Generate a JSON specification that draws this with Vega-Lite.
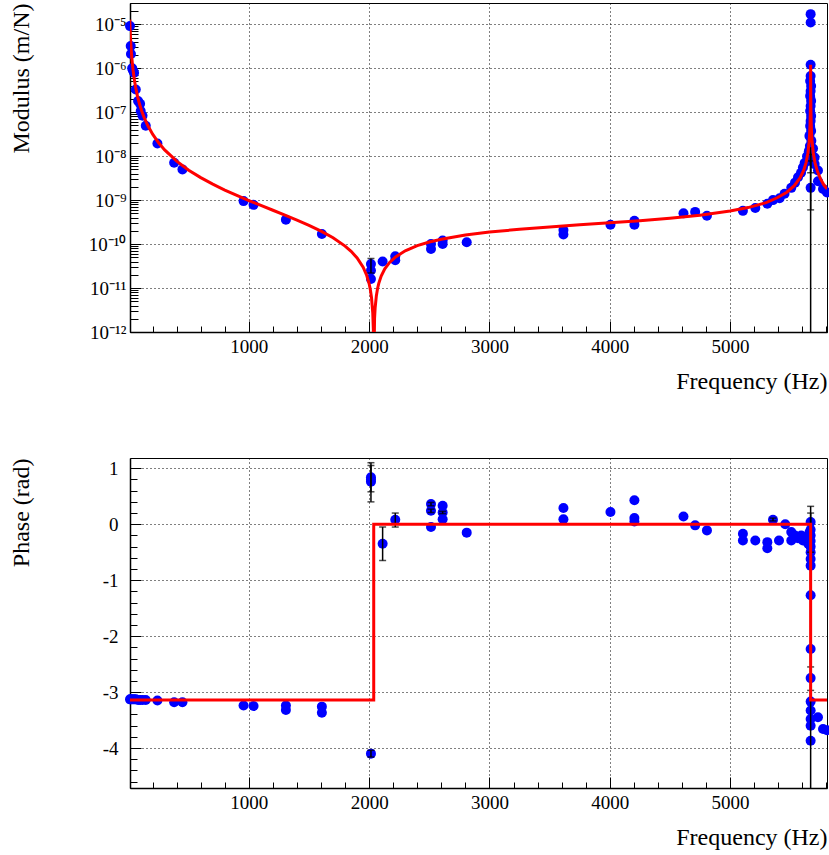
{
  "$schema": "https://vega.github.io/schema/vega-lite/v6.json",
  "padding": {"left": 8, "top": 2, "right": 0, "bottom": 0},
  "spacing": 63,
  "config": {
    "font": "Liberation Serif",
    "view": {"stroke": "#000", "strokeWidth": 1},
    "axis": {
      "labelFont": "Liberation Serif", "titleFont": "Liberation Serif",
      "labelFontSize": 19, "titleFontSize": 24, "titleFontWeight": "normal",
      "labelColor": "#000", "titleColor": "#000", "domainColor": "#000",
      "tickColor": "#000", "gridColor": "#000", "gridDash": [1, 3], "gridOpacity": 1, "gridWidth": 1,
      "domainWidth": 1.5, "tickWidth": 1
    }
  },
  "datasets": {
    "mod": [
      {"f": 12, "v": 9.1e-6}, {"f": 18, "v": 3.2e-6}, {"f": 20, "v": 2.1e-6}, {"f": 30, "v": 1.0e-6},
      {"f": 36, "v": 9.0e-7}, {"f": 46, "v": 7.9e-7}, {"f": 60, "v": 3.3e-7}, {"f": 79, "v": 1.8e-7},
      {"f": 96, "v": 1.55e-7}, {"f": 101, "v": 1.07e-7}, {"f": 116, "v": 8.3e-8}, {"f": 143, "v": 4.9e-8},
      {"f": 240, "v": 1.95e-8}, {"f": 379, "v": 7.1e-9}, {"f": 448, "v": 5.0e-9}, {"f": 956, "v": 9.5e-10},
      {"f": 1039, "v": 7.8e-10}, {"f": 1308, "v": 3.6e-10}, {"f": 1607, "v": 1.7e-10},
      {"f": 2015, "v": 3.5e-11}, {"f": 2015, "v": 2.5e-11}, {"f": 2015, "v": 1.6e-11},
      {"f": 2112, "v": 4.0e-11}, {"f": 2217, "v": 5.3e-11}, {"f": 2217, "v": 4.3e-11},
      {"f": 2514, "v": 1.0e-10}, {"f": 2514, "v": 7.7e-11}, {"f": 2611, "v": 1.2e-10}, {"f": 2611, "v": 1.0e-10},
      {"f": 2811, "v": 1.1e-10}, {"f": 3615, "v": 2.1e-10}, {"f": 3615, "v": 1.65e-10},
      {"f": 4006, "v": 2.75e-10}, {"f": 4205, "v": 3.4e-10}, {"f": 4205, "v": 2.75e-10},
      {"f": 4613, "v": 5.0e-10}, {"f": 4710, "v": 5.4e-10}, {"f": 4808, "v": 4.4e-10},
      {"f": 5107, "v": 5.7e-10}, {"f": 5210, "v": 6.6e-10}, {"f": 5310, "v": 8.3e-10}, {"f": 5357, "v": 1.0e-9},
      {"f": 5412, "v": 1.1e-9}, {"f": 5453, "v": 1.4e-9}, {"f": 5509, "v": 1.9e-9}, {"f": 5540, "v": 2.5e-9},
      {"f": 5565, "v": 3.3e-9}, {"f": 5590, "v": 4.2e-9}, {"f": 5606, "v": 5.5e-9}, {"f": 5620, "v": 7.0e-9},
      {"f": 5640, "v": 1.0e-8}, {"f": 5655, "v": 1.3e-8},
      {"f": 5670, "v": 6.68e-7}, {"f": 5666, "v": 5.14e-7}, {"f": 5674, "v": 3.96e-7}, {"f": 5670, "v": 3.05e-7},
      {"f": 5666, "v": 2.35e-7}, {"f": 5674, "v": 1.81e-7}, {"f": 5670, "v": 1.39e-7}, {"f": 5666, "v": 1.07e-7},
      {"f": 5674, "v": 8.24e-8}, {"f": 5670, "v": 6.34e-8}, {"f": 5666, "v": 4.88e-8}, {"f": 5674, "v": 3.76e-8},
      {"f": 5660, "v": 2.89e-8}, {"f": 5676, "v": 2.23e-8}, {"f": 5664, "v": 1.71e-8}, {"f": 5676, "v": 1.32e-8},
      {"f": 5670, "v": 1.02e-8}, {"f": 5670, "v": 7.82e-9},
      {"f": 5670, "v": 1.2e-6}, {"f": 5670, "v": 1.7e-5}, {"f": 5670, "v": 1.1e-5}, {"f": 5670, "v": 1.9e-9},
      {"f": 5690, "v": 1.5e-8}, {"f": 5703, "v": 9.3e-9}, {"f": 5703, "v": 6.6e-9}, {"f": 5731, "v": 4.7e-9},
      {"f": 5731, "v": 2.7e-9}, {"f": 5773, "v": 1.8e-9}, {"f": 5806, "v": 1.5e-9}
    ],
    "moderr": [
      {"f": 5670, "lo": 1e-14, "hi": 1.55e-8},
      {"f": 5670, "lo": 6.0e-10, "hi": 7.8e-9},
      {"f": 5670, "lo": 4.2e-9, "hi": 1.1e-8},
      {"f": 2015, "lo": 2.2e-11, "hi": 4.7e-11}
    ],
    "modfit": [
      {"f": 10, "v": 1.275e-5}, {"f": 11, "v": 1.054e-5}, {"f": 13, "v": 7.544e-6}, {"f": 15, "v": 5.667e-6},
      {"f": 18, "v": 3.935e-6}, {"f": 22, "v": 2.634e-6}, {"f": 27, "v": 1.749e-6}, {"f": 33, "v": 1.171e-6},
      {"f": 40, "v": 7.969e-7}, {"f": 50, "v": 5.1e-7}, {"f": 60, "v": 3.542e-7}, {"f": 75, "v": 2.267e-7},
      {"f": 90, "v": 1.574e-7}, {"f": 110, "v": 1.054e-7}, {"f": 130, "v": 7.544e-8}, {"f": 160, "v": 4.98e-8},
      {"f": 200, "v": 3.158e-8}, {"f": 250, "v": 2.011e-8}, {"f": 300, "v": 1.388e-8}, {"f": 400, "v": 7.675e-9},
      {"f": 500, "v": 4.806e-9}, {"f": 600, "v": 3.248e-9}, {"f": 700, "v": 2.308e-9}, {"f": 800, "v": 1.697e-9},
      {"f": 900, "v": 1.279e-9}, {"f": 1000, "v": 9.79e-10}, {"f": 1100, "v": 7.57e-10}, {"f": 1200, "v": 5.88e-10},
      {"f": 1300, "v": 4.562e-10}, {"f": 1400, "v": 3.514e-10}, {"f": 1500, "v": 2.667e-10}, {"f": 1600, "v": 1.969e-10},
      {"f": 1700, "v": 1.39e-10}, {"f": 1800, "v": 9.005e-11}, {"f": 1850, "v": 6.843e-11}, {"f": 1900, "v": 4.84e-11},
      {"f": 1950, "v": 2.981e-11}, {"f": 1980, "v": 1.928e-11}, {"f": 2000, "v": 1.252e-11}, {"f": 2010, "v": 9.2e-12},
      {"f": 2020, "v": 5.93e-12}, {"f": 2030, "v": 2.71e-12}, {"f": 2035, "v": 1.11e-12}, {"f": 2038, "v": 1e-13},
      {"f": 2045, "v": 2.05e-12}, {"f": 2050, "v": 3.61e-12}, {"f": 2060, "v": 6.71e-12}, {"f": 2070, "v": 9.76e-12},
      {"f": 2080, "v": 1.277e-11}, {"f": 2100, "v": 1.868e-11}, {"f": 2130, "v": 2.726e-11}, {"f": 2170, "v": 3.821e-11},
      {"f": 2220, "v": 5.114e-11}, {"f": 2300, "v": 7.03e-11}, {"f": 2400, "v": 9.194e-11}, {"f": 2500, "v": 1.1143e-10},
      {"f": 2600, "v": 1.2913e-10}, {"f": 2800, "v": 1.6032e-10}, {"f": 3000, "v": 1.8742e-10}, {"f": 3250, "v": 2.1769e-10},
      {"f": 3500, "v": 2.46e-10}, {"f": 3750, "v": 2.7438e-10}, {"f": 4000, "v": 3.0505e-10}, {"f": 4250, "v": 3.4102e-10},
      {"f": 4500, "v": 3.8725e-10}, {"f": 4750, "v": 4.535e-10}, {"f": 5000, "v": 5.6338e-10}, {"f": 5150, "v": 6.7666e-10},
      {"f": 5300, "v": 8.7756e-10}, {"f": 5392, "v": 1.1304e-9}, {"f": 5472, "v": 1.5155e-9}, {"f": 5532, "v": 2.0963e-9},
      {"f": 5582, "v": 3.1847e-9}, {"f": 5612, "v": 4.7378e-9}, {"f": 5632, "v": 7.1353e-9}, {"f": 5647, "v": 1.1669e-8},
      {"f": 5657, "v": 2.0505e-8}, {"f": 5662, "v": 3.3206e-8}, {"f": 5665, "v": 5.302e-8}, {"f": 5667, "v": 8.824e-8},
      {"f": 5668, "v": 1.3227e-7}, {"f": 5669, "v": 2.6436e-7}, {"f": 5670, "v": 1.2e-6}, {"f": 5671, "v": 2.6399e-7},
      {"f": 5672, "v": 1.3191e-7}, {"f": 5673, "v": 8.788e-8}, {"f": 5675, "v": 5.265e-8}, {"f": 5678, "v": 3.284e-8},
      {"f": 5682, "v": 2.1832e-8}, {"f": 5692, "v": 1.1825e-8}, {"f": 5707, "v": 6.957e-9}, {"f": 5727, "v": 4.452e-9},
      {"f": 5752, "v": 3.037e-9}, {"f": 5782, "v": 2.1737e-9}, {"f": 5806, "v": 1.8e-9}
    ],
    "phase": [
      {"f": 12, "p": -3.13}, {"f": 18, "p": -3.13}, {"f": 32, "p": -3.13}, {"f": 46, "p": -3.13}, {"f": 60, "p": -3.13},
      {"f": 79, "p": -3.14}, {"f": 96, "p": -3.14}, {"f": 116, "p": -3.14}, {"f": 143, "p": -3.14}, {"f": 240, "p": -3.15},
      {"f": 379, "p": -3.18}, {"f": 448, "p": -3.18}, {"f": 956, "p": -3.24}, {"f": 1039, "p": -3.25},
      {"f": 1308, "p": -3.24}, {"f": 1308, "p": -3.32}, {"f": 1607, "p": -3.26}, {"f": 1607, "p": -3.37},
      {"f": 2015, "p": 0.84}, {"f": 2015, "p": 0.76}, {"f": 2015, "p": 0.8}, {"f": 2015, "p": -4.1},
      {"f": 2112, "p": -0.35}, {"f": 2217, "p": 0.08},
      {"f": 2514, "p": 0.36}, {"f": 2514, "p": 0.24}, {"f": 2514, "p": -0.05},
      {"f": 2611, "p": 0.33}, {"f": 2611, "p": 0.21}, {"f": 2611, "p": 0.09}, {"f": 2811, "p": -0.15},
      {"f": 3615, "p": 0.29}, {"f": 3615, "p": 0.09}, {"f": 4006, "p": 0.22},
      {"f": 4205, "p": 0.43}, {"f": 4205, "p": 0.11}, {"f": 4205, "p": 0.05},
      {"f": 4613, "p": 0.14}, {"f": 4710, "p": -0.02}, {"f": 4808, "p": -0.11},
      {"f": 5107, "p": -0.17}, {"f": 5107, "p": -0.29}, {"f": 5210, "p": -0.29}, {"f": 5310, "p": -0.32}, {"f": 5310, "p": -0.43},
      {"f": 5357, "p": 0.08}, {"f": 5407, "p": -0.29}, {"f": 5459, "p": 0.0}, {"f": 5509, "p": -0.14}, {"f": 5509, "p": -0.29},
      {"f": 5540, "p": -0.2}, {"f": 5565, "p": -0.25}, {"f": 5592, "p": -0.2}, {"f": 5606, "p": -0.29}, {"f": 5630, "p": -0.25},
      {"f": 5650, "p": -0.35}, {"f": 5660, "p": -0.15},
      {"f": 5670, "p": 0.04}, {"f": 5670, "p": -0.1}, {"f": 5670, "p": -0.2}, {"f": 5670, "p": -0.3}, {"f": 5670, "p": -0.4},
      {"f": 5670, "p": -0.5}, {"f": 5670, "p": -0.62}, {"f": 5670, "p": -0.74}, {"f": 5670, "p": -1.27}, {"f": 5670, "p": -2.23},
      {"f": 5670, "p": -2.75}, {"f": 5670, "p": -3.17}, {"f": 5670, "p": -3.33}, {"f": 5670, "p": -3.48}, {"f": 5670, "p": -3.6},
      {"f": 5670, "p": -3.87}, {"f": 5731, "p": -3.45}, {"f": 5773, "p": -3.66}, {"f": 5806, "p": -3.68}
    ],
    "phaseerr": [
      {"f": 2015, "lo": 0.4, "hi": 1.1}, {"f": 2015, "lo": 0.58, "hi": 1.05}, {"f": 2015, "lo": -4.16, "hi": -4.04},
      {"f": 2112, "lo": -0.65, "hi": -0.05}, {"f": 2217, "lo": -0.05, "hi": 0.2},
      {"f": 2514, "lo": 0.33, "hi": 0.39}, {"f": 2514, "lo": 0.21, "hi": 0.27}, {"f": 2611, "lo": 0.19, "hi": 0.23},
      {"f": 5357, "lo": 0.06, "hi": 0.11}, {"f": 5670, "lo": -6, "hi": 0.32}, {"f": 5670, "lo": -0.5, "hi": 0.2},
      {"f": 5670, "lo": -2.97, "hi": -2.55}
    ],
    "phasefit": [
      {"i": 0, "f": 10, "p": -3.1416}, {"i": 1, "f": 2038, "p": -3.1416}, {"i": 2, "f": 2038, "p": 0},
      {"i": 3, "f": 5670, "p": 0}, {"i": 4, "f": 5670, "p": -3.1416}, {"i": 5, "f": 5806, "p": -3.1416}
    ]
  },
  "vconcat": [
    {
      "width": 697, "height": 329,
      "resolve": {"axis": {"x": "independent", "y": "independent"}},
      "layer": [
        {
          "data": {"name": "mod"},
          "mark": {"type": "circle", "size": 100, "color": "#0000ff", "opacity": 1},
          "encoding": {
            "x": {"field": "f", "type": "quantitative", "scale": {"domain": [12, 5806], "nice": false, "zero": false},
              "axis": {"values": [1000, 2000, 3000, 4000, 5000], "format": "d", "grid": true, "tickSize": -11, "labelPadding": 16,
                "title": "Frequency (Hz)", "titleAnchor": "end", "titlePadding": 13}},
            "y": {"field": "v", "type": "quantitative", "scale": {"type": "log", "domain": [1e-12, 3.05e-5], "nice": false},
              "axis": {"values": [1e-12, 1e-11, 1e-10, 1e-9, 1e-8, 1e-7, 1e-6, 1e-5], "grid": true, "tickSize": -11, "labelPadding": 15,
                "labelExpr": "datum.value < 3e-12 ? '10⁻¹²' : datum.value < 3e-11 ? '10⁻¹¹' : datum.value < 3e-10 ? '10⁻¹⁰' : datum.value < 3e-9 ? '10⁻⁹' : datum.value < 3e-8 ? '10⁻⁸' : datum.value < 3e-7 ? '10⁻⁷' : datum.value < 3e-6 ? '10⁻⁶' : '10⁻⁵'",
                "title": "Modulus (m/N)", "titleAnchor": "end", "titleX": -109, "titleBaseline": "middle"}}
          }
        },
        {
          "data": {"name": "moderr"},
          "mark": {"type": "rule", "color": "#000", "strokeWidth": 1.5, "clip": true},
          "encoding": {
            "x": {"field": "f", "type": "quantitative", "scale": {"domain": [12, 5806], "nice": false, "zero": false}, "axis": null},
            "y": {"field": "lo", "type": "quantitative", "scale": {"type": "log", "domain": [1e-12, 3.05e-5], "nice": false}, "axis": null},
            "y2": {"field": "hi"}
          }
        },
        {
          "data": {"name": "moderr"},
          "mark": {"type": "tick", "orient": "horizontal", "color": "#000", "size": 7, "thickness": 1.5, "clip": true},
          "encoding": {
            "x": {"field": "f", "type": "quantitative", "scale": {"domain": [12, 5806], "nice": false, "zero": false}, "axis": null},
            "y": {"field": "hi", "type": "quantitative", "scale": {"type": "log", "domain": [1e-12, 3.05e-5], "nice": false}, "axis": null}
          }
        },
        {
          "data": {"name": "moderr"},
          "mark": {"type": "tick", "orient": "horizontal", "color": "#000", "size": 7, "thickness": 1.5, "clip": true},
          "encoding": {
            "x": {"field": "f", "type": "quantitative", "scale": {"domain": [12, 5806], "nice": false, "zero": false}, "axis": null},
            "y": {"field": "lo", "type": "quantitative", "scale": {"type": "log", "domain": [1e-12, 3.05e-5], "nice": false}, "axis": null}
          }
        },
        {
          "data": {"name": "modfit"},
          "mark": {"type": "line", "color": "#ff0000", "strokeWidth": 3, "clip": true},
          "encoding": {
            "x": {"field": "f", "type": "quantitative", "scale": {"domain": [12, 5806], "nice": false, "zero": false}, "axis": null},
            "y": {"field": "v", "type": "quantitative", "scale": {"type": "log", "domain": [1e-12, 3.05e-5], "nice": false}, "axis": null}
          }
        },
        {
          "data": {"name": "modfit"},
          "mark": {"type": "point", "opacity": 0},
          "encoding": {
            "x": {"field": "f", "type": "quantitative", "scale": {"domain": [12, 5806], "nice": false, "zero": false},
              "axis": {"orient": "bottom", "values": [200, 400, 600, 800, 1200, 1400, 1600, 1800, 2200, 2400, 2600, 2800, 3200, 3400, 3600, 3800, 4200, 4400, 4600, 4800, 5200, 5400, 5600, 5800],
                "labels": false, "grid": false, "domain": false, "tickSize": -6, "title": null}},
            "y": {"field": "v", "type": "quantitative", "scale": {"type": "log", "domain": [1e-12, 3.05e-5], "nice": false},
              "axis": {"orient": "left", "values": [2e-12, 3e-12, 4e-12, 5e-12, 6e-12, 7e-12, 8e-12, 9e-12, 2e-11, 3e-11, 4e-11, 5e-11, 6e-11, 7e-11, 8e-11, 9e-11, 2e-10, 3e-10, 4e-10, 5e-10, 6e-10, 7e-10, 8e-10, 9e-10, 2e-9, 3e-9, 4e-9, 5e-9, 6e-9, 7e-9, 8e-9, 9e-9, 2e-8, 3e-8, 4e-8, 5e-8, 6e-8, 7e-8, 8e-8, 9e-8, 2e-7, 3e-7, 4e-7, 5e-7, 6e-7, 7e-7, 8e-7, 9e-7, 2e-6, 3e-6, 4e-6, 5e-6, 6e-6, 7e-6, 8e-6, 9e-6, 2e-5, 3e-5],
                "labels": false, "grid": false, "domain": false, "tickSize": -8, "title": null}}
          }
        }
      ]
    },
    {
      "width": 697, "height": 330,
      "resolve": {"axis": {"x": "independent", "y": "independent"}},
      "layer": [
        {
          "data": {"name": "phase"},
          "mark": {"type": "circle", "size": 100, "color": "#0000ff", "opacity": 1},
          "encoding": {
            "x": {"field": "f", "type": "quantitative", "scale": {"domain": [12, 5806], "nice": false, "zero": false},
              "axis": {"values": [1000, 2000, 3000, 4000, 5000], "format": "d", "grid": true, "tickSize": -11, "labelPadding": 16,
                "title": "Frequency (Hz)", "titleAnchor": "end", "titlePadding": 13}},
            "y": {"field": "p", "type": "quantitative", "scale": {"domain": [-4.714, 1.184], "nice": false, "zero": false},
              "axis": {"values": [-4, -3, -2, -1, 0, 1], "grid": true, "tickSize": -11, "labelPadding": 23,
                "labelExpr": "datum.value < 0 ? '-' + abs(datum.value) : '' + datum.value",
                "title": "Phase (rad)", "titleAnchor": "end", "titleX": -109, "titleBaseline": "middle"}}
          }
        },
        {
          "data": {"name": "phaseerr"},
          "mark": {"type": "rule", "color": "#000", "strokeWidth": 1.5, "clip": true},
          "encoding": {
            "x": {"field": "f", "type": "quantitative", "scale": {"domain": [12, 5806], "nice": false, "zero": false}, "axis": null},
            "y": {"field": "lo", "type": "quantitative", "scale": {"domain": [-4.714, 1.184], "nice": false, "zero": false}, "axis": null},
            "y2": {"field": "hi"}
          }
        },
        {
          "data": {"name": "phaseerr"},
          "mark": {"type": "tick", "orient": "horizontal", "color": "#000", "size": 7, "thickness": 1.5, "clip": true},
          "encoding": {
            "x": {"field": "f", "type": "quantitative", "scale": {"domain": [12, 5806], "nice": false, "zero": false}, "axis": null},
            "y": {"field": "hi", "type": "quantitative", "scale": {"domain": [-4.714, 1.184], "nice": false, "zero": false}, "axis": null}
          }
        },
        {
          "data": {"name": "phaseerr"},
          "mark": {"type": "tick", "orient": "horizontal", "color": "#000", "size": 7, "thickness": 1.5, "clip": true},
          "encoding": {
            "x": {"field": "f", "type": "quantitative", "scale": {"domain": [12, 5806], "nice": false, "zero": false}, "axis": null},
            "y": {"field": "lo", "type": "quantitative", "scale": {"domain": [-4.714, 1.184], "nice": false, "zero": false}, "axis": null}
          }
        },
        {
          "data": {"name": "phasefit"},
          "mark": {"type": "line", "color": "#ff0000", "strokeWidth": 3, "clip": true},
          "encoding": {
            "x": {"field": "f", "type": "quantitative", "scale": {"domain": [12, 5806], "nice": false, "zero": false}, "axis": null},
            "y": {"field": "p", "type": "quantitative", "scale": {"domain": [-4.714, 1.184], "nice": false, "zero": false}, "axis": null},
            "order": {"field": "i", "type": "quantitative"}
          }
        },
        {
          "data": {"name": "phasefit"},
          "mark": {"type": "point", "opacity": 0},
          "encoding": {
            "x": {"field": "f", "type": "quantitative", "scale": {"domain": [12, 5806], "nice": false, "zero": false},
              "axis": {"orient": "bottom", "values": [200, 400, 600, 800, 1200, 1400, 1600, 1800, 2200, 2400, 2600, 2800, 3200, 3400, 3600, 3800, 4200, 4400, 4600, 4800, 5200, 5400, 5600, 5800],
                "labels": false, "grid": false, "domain": false, "tickSize": -6, "title": null}},
            "y": {"field": "p", "type": "quantitative", "scale": {"domain": [-4.714, 1.184], "nice": false, "zero": false},
              "axis": {"orient": "left", "values": [-4.6, -4.4, -4.2, -3.8, -3.6, -3.4, -3.2, -2.8, -2.6, -2.4, -2.2, -1.8, -1.6, -1.4, -1.2, -0.8, -0.6, -0.4, -0.2, 0.2, 0.4, 0.6, 0.8, 1.0],
                "labels": false, "grid": false, "domain": false, "tickSize": -7, "title": null}}
          }
        }
      ]
    }
  ]
}
